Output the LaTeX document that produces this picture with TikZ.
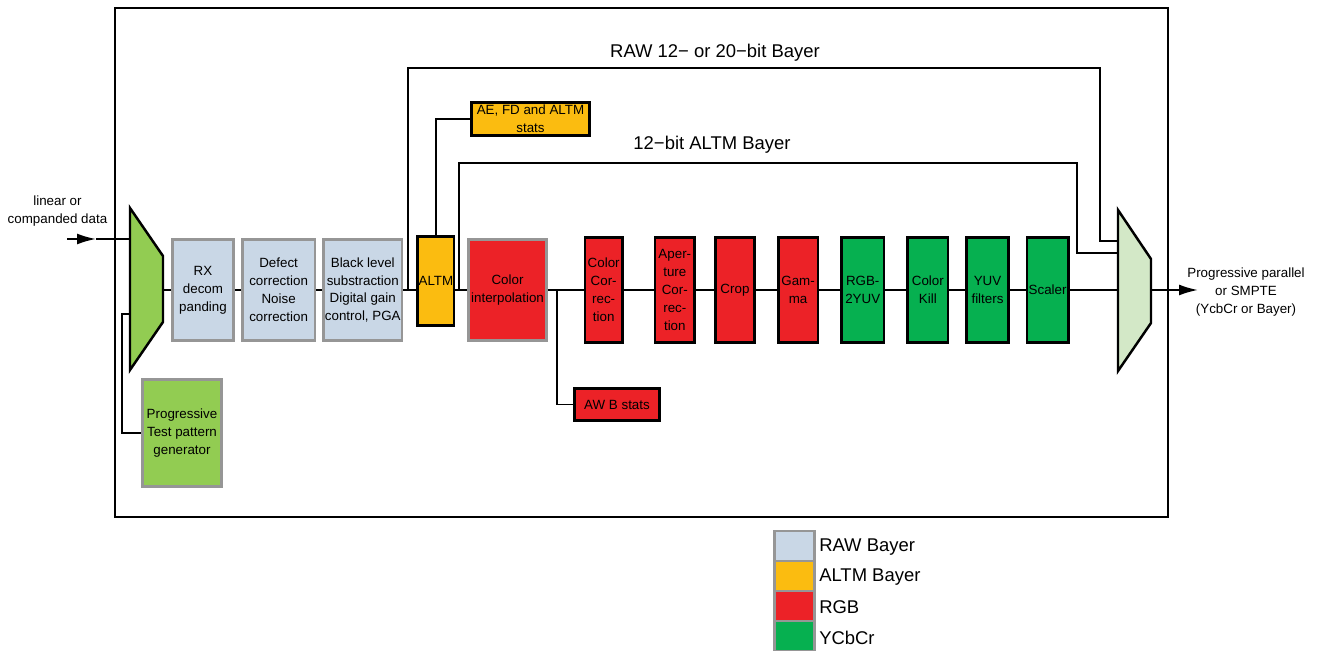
\documentclass[tikz,border=0pt]{standalone}
\usepackage{fontspec}
\setmainfont{Liberation Sans}
\usetikzlibrary{positioning, arrows.meta}
\definecolor{rawblue}{RGB}{201,215,230}
\definecolor{altmorange}{RGB}{251,188,16}
\definecolor{rgbred}{RGB}{236,34,39}
\definecolor{ycbgreen}{RGB}{6,176,80}
\definecolor{tpggreen}{RGB}{146,204,82}
\definecolor{muxlight}{RGB}{211,232,199}
\definecolor{edgegray}{RGB}{150,150,150}

\begin{document}
\begin{tikzpicture}[
  box/.style={line width=1.5pt, align=center, inner sep=0.5pt, font=\fontsize{7.6}{10.2}\selectfont},
  graybox/.style={box, draw=edgegray},
  blackbox/.style={box, draw=black},
  rawbox/.style={graybox, fill=rawblue, minimum height=2.03cm},
  redbox/.style={blackbox, fill=rgbred, minimum height=2.09cm},
  ycbbox/.style={blackbox, fill=ycbgreen, minimum height=2.09cm},
  legbox/.style={graybox, minimum width=0.81cm, minimum height=0.60cm},
  mux/.style={draw, line width=1.4pt, line join=miter},
  line/.style={line width=1.1pt},
  arr/.style={-{Latex[length=0.38cm, width=0.22cm]}, line width=1.1pt},
  lbl/.style={font=\fontsize{10.5}{12.6}\selectfont}]
\useasboundingbox (0,0) rectangle (26.38,13.02);
\draw[line] (2.30,2.68) rectangle (23.36,12.86);

% input side
\node[align=center, font=\fontsize{7.6}{10.2}\selectfont] (inlbl) at (1.15,8.80) {linear or\\companded data};
\coordinate (in) at (1.34,8.24);
\coordinate (intip) at (1.92,8.24);
\draw[mux, fill=tpggreen] (2.60,8.86) -- (3.26,7.90) -- (3.26,6.58) -- (2.60,5.62) -- cycle;
\coordinate (muxl-in) at (2.60,8.24);
\coordinate (muxl-out) at (3.26,7.22);
\coordinate (muxl-tpg) at (2.60,6.74);
\node[graybox, fill=tpggreen, minimum width=1.59cm, minimum height=2.15cm] (tpg) at (3.64,4.36) {Progressive\\Test pattern\\generator};

% main chain
\node[rawbox, minimum width=1.23cm] (rx) at (4.06,7.22) {RX\\decom\\panding};
\node[rawbox, minimum width=1.45cm, right=0.12cm of rx] (defect) {Defect\\correction\\Noise\\correction};
\node[rawbox, minimum width=1.57cm, right=0.12cm of defect] (black) {Black level\\substraction\\Digital gain\\control, PGA};
\node[blackbox, fill=altmorange, minimum width=0.73cm, minimum height=1.79cm, right=0.26cm of black, yshift=0.18cm] (altm) {ALTM};
\node[graybox, fill=rgbred, minimum width=1.55cm, minimum height=2.03cm, right=0.24cm of altm, yshift=-0.18cm] (colint) {Color\\interpolation};
\node[redbox, minimum width=0.75cm, right=0.72cm of colint] (cc) {Color\\Cor-\\rec-\\tion};
\node[redbox, minimum width=0.79cm, right=0.60cm of cc] (apert) {Aper-\\ture\\Cor-\\rec-\\tion};
\node[redbox, minimum width=0.79cm, right=0.36cm of apert] (crop) {Crop};
\node[redbox, minimum width=0.79cm, right=0.42cm of crop] (gamma) {Gam-\\ma};
\node[ycbbox, minimum width=0.85cm, right=0.42cm of gamma] (rgbyuv) {RGB-\\2YUV};
\node[ycbbox, minimum width=0.81cm, right=0.42cm of rgbyuv] (kill) {Color\\Kill};
\node[ycbbox, minimum width=0.83cm, right=0.32cm of kill] (yuvf) {YUV\\filters};
\node[ycbbox, minimum width=0.83cm, right=0.32cm of yuvf] (scaler) {Scaler};

% output side
\draw[mux, fill=muxlight] (22.36,8.82) -- (23.02,7.84) -- (23.02,6.56) -- (22.36,5.60) -- cycle;
\coordinate (muxr-in) at (22.36,7.22);
\coordinate (muxr-out) at (23.02,7.22);
\coordinate (muxr-raw) at (22.36,8.20);
\coordinate (muxr-altm) at (22.36,7.96);
\coordinate (out) at (23.96,7.22);
\node[align=center, font=\fontsize{7.6}{10.2}\selectfont] (outlbl) at (24.92,7.18) {Progressive parallel\\or SMPTE\\(YcbCr or Bayer)};

% stats
\node[blackbox, fill=altmorange, minimum width=2.37cm, minimum height=0.67cm] (aestats) at (10.61,10.64) {AE, FD and ALTM\\stats};
\node[blackbox, fill=rgbred, minimum width=1.71cm, minimum height=0.65cm] (awb) at (12.34,4.93) {AW B stats};

% connections
\draw[arr] (in) -- (intip);
\draw[line] (intip) -- (muxl-in);
\draw[line] (muxl-tpg) -- ++(-0.16,0) |- (tpg.west);
\draw[line] (muxl-out) -- (rx) -- (defect) -- (black);
\draw[line] (black.east) -- (altm.west |- black.east);
\draw[line] (altm.east |- colint.west) -- (colint.west);
\draw[line] (colint) -- (cc) -- (apert) -- (crop) -- (gamma) -- (rgbyuv) -- (kill) -- (yuvf) -- (scaler) -- (muxr-in);
\draw[arr] (muxr-out) -- (out);
\draw[line] (altm.north) |- (aestats.west);
\coordinate (rawsplit) at (8.16,7.22);
\coordinate (altmsplit) at (9.18,7.22);
\coordinate (awbsplit) at (11.14,7.22);
\draw[line] (rawsplit) |- (22.00,11.66) |- (muxr-raw);
\draw[line] (altmsplit) |- (21.54,9.76) |- (muxr-altm);
\draw[line] (awbsplit) |- (awb.west);
\node[lbl] (rawlbl) at (14.30,11.96) {RAW 12− or 20−bit Bayer};
\node[lbl] (altmlbl) at (14.24,10.12) {12−bit ALTM Bayer};

% legend
\node[legbox, fill=rawblue] (legraw) at (15.89,2.10) {};
\node[legbox, fill=altmorange, below=-1.5pt of legraw] (legaltm) {};
\node[legbox, fill=rgbred, below=-1.5pt of legaltm] (legrgb) {};
\node[legbox, fill=ycbgreen, below=-1.5pt of legrgb] (legycb) {};
\node[lbl, right=-0.06cm of legraw, yshift=-0.03cm] {RAW Bayer};
\node[lbl, right=-0.06cm of legaltm, yshift=-0.03cm] {ALTM Bayer};
\node[lbl, right=-0.06cm of legrgb, yshift=-0.03cm] {RGB};
\node[lbl, right=-0.06cm of legycb, yshift=-0.03cm] {YCbCr};
\end{tikzpicture}
\end{document}
